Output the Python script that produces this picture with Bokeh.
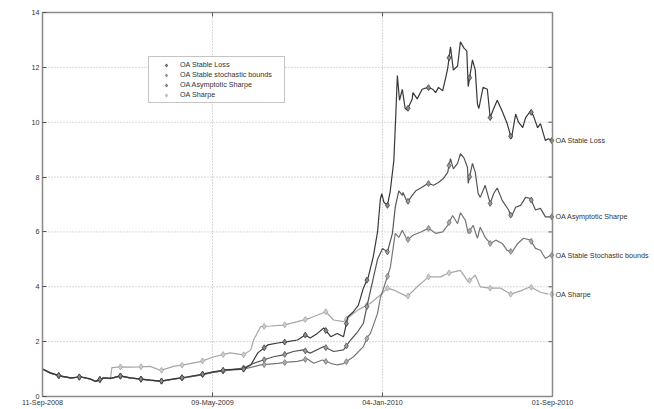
import numpy as np
import pandas as pd
from bokeh.plotting import figure
from bokeh.models import FixedTicker, Legend, LegendItem, Label, Range1d, LinearAxis, Span
from bokeh.embed import file_html
from bokeh.resources import INLINE

# ---------------- data ----------------
start_date = "2008-09-11"
tick_dates = ["2008-09-11", "2009-05-09", "2010-01-04", "2010-09-01"]
tick_labels = ["11-Sep-2008", "09-May-2009", "04-Jan-2010", "01-Sep-2010"]
y_ticks = [0, 2, 4, 6, 8, 10, 12, 14]

# days since 11-Sep-2008
sl_days = [0,11,25,40,54,68,75,86,96,110,124,138,152,167,185,205,223,241,261,284,
           294,304,318,332,346,360,371,378,388,397,407,416,425,431,439,446,453,460,467,473,
           477,479,482,487,491,496,498,501,504,508,512,515,522,523,529,536,544,551,555,559,
           565,569,572,576,580,586,590,595,599,601,607,611,614,616,622,628,632,637,642,649,
           656,662,668,672,678,682,689,693,699,703,710,714,719]
sl_vals = [1.0,0.86,0.75,0.68,0.72,0.64,0.55,0.68,0.66,0.75,0.68,0.64,0.6,0.56,0.64,0.72,0.8,0.9,0.98,1.0,
           1.15,1.59,1.88,1.95,2.0,2.06,2.24,2.13,2.3,2.5,2.18,2.3,2.18,2.9,3.09,3.33,3.95,4.36,5.1,6.0,
           7.2,7.4,7.08,6.97,7.5,8.6,9.8,11.7,10.8,11.2,10.5,10.45,10.85,11.08,10.85,11.2,11.27,11.2,11.08,11.27,
           11.15,11.6,11.95,12.75,11.9,12.05,12.93,12.7,12.6,11.3,12.27,11.9,10.67,10.5,11.27,11.2,10.17,10.5,10.8,10.4,
           9.95,9.4,10.3,10.0,9.8,10.17,10.4,10.24,9.8,9.95,9.33,9.4,9.33]

as_days = [0,11,25,40,54,68,75,86,96,110,124,138,152,167,185,205,223,241,261,284,
           298,312,326,340,354,368,378,397,411,425,435,445,453,459,466,473,480,487,494,498,
           503,508,509,515,522,527,534,544,552,559,566,572,576,580,586,590,595,600,601,607,
           611,615,618,625,632,637,642,649,658,662,668,675,682,689,696,703,710,717]
as_vals = [1.0,0.86,0.74,0.68,0.71,0.63,0.55,0.67,0.66,0.74,0.68,0.63,0.6,0.56,0.63,0.71,0.79,0.89,0.96,1.04,
           1.21,1.33,1.45,1.52,1.64,1.7,1.58,1.82,1.64,1.7,2.06,2.36,2.67,3.4,4.2,5.0,5.4,5.27,5.95,6.9,
           7.5,7.33,7.44,7.08,7.33,7.5,7.6,7.77,7.7,7.8,7.95,8.17,8.67,8.3,8.5,8.85,8.7,8.35,7.77,8.5,
           8.17,7.4,7.26,7.7,7.04,7.4,7.6,7.15,6.8,6.55,6.9,6.97,7.26,7.22,6.8,6.86,6.55,6.55]

ss_days = [0,11,25,40,54,68,75,86,96,110,124,138,152,167,185,205,223,241,261,284,
           308,332,346,360,374,383,395,407,416,425,439,453,459,463,473,477,481,491,498,503,
           508,515,523,534,545,555,565,572,579,586,590,597,601,608,614,618,625,632,640,649,
           656,663,671,679,689,696,703,710,717]
ss_vals = [1.0,0.85,0.74,0.67,0.71,0.63,0.55,0.67,0.65,0.74,0.67,0.63,0.59,0.55,0.63,0.7,0.78,0.88,0.95,1.0,
           1.15,1.21,1.25,1.28,1.37,1.21,1.33,1.21,1.15,1.2,1.45,1.82,2.17,2.3,3.03,3.6,3.9,4.7,5.95,5.8,
           6.06,5.7,5.88,6.0,6.13,5.95,6.0,6.24,6.6,6.3,6.7,6.42,5.95,6.24,5.77,6.17,5.8,5.58,5.7,5.58,
           5.33,5.27,5.58,5.77,5.7,5.4,5.33,5.03,5.15]

sh_days = [0,11,25,40,54,68,75,86,96,98,110,124,138,152,167,185,199,223,241,265,
           284,294,298,308,322,340,360,378,400,411,425,445,463,477,487,496,515,529,545,562,
           573,590,601,611,618,632,647,661,675,689,703,714]
sh_vals = [1.0,0.86,0.74,0.68,0.71,0.63,0.55,0.67,0.66,1.05,1.08,1.07,1.08,1.1,0.95,1.1,1.15,1.27,1.44,1.59,
           1.52,1.7,2.06,2.55,2.57,2.6,2.73,2.86,3.09,2.79,2.73,3.15,3.4,3.7,3.95,3.88,3.64,4.0,4.36,4.36,
           4.5,4.6,4.18,4.42,4.0,3.95,3.95,3.73,3.85,4.0,3.8,3.73]

marker_days = np.arange(23, 720, 29)

series = [
    # legend name, end label, days, values, line color, marker fill
    ("OA Stable Loss", "OA Stable Loss", sl_days, sl_vals, "#383838", "#8c8c8c"),
    ("OA Stable stochastic bounds", "OA Stable Stochastic bounds", ss_days, ss_vals, "#777777", "#ababab"),
    ("OA Asymptotic Sharpe", "OA Asymptotic Sharpe", as_days, as_vals, "#555555", "#9a9a9a"),
    ("OA Sharpe", "OA Sharpe", sh_days, sh_vals, "#a6a6a6", "#cdcdcd"),
]

start = pd.Timestamp(start_date)
tick_days = [(pd.Timestamp(d) - start).days for d in tick_dates]
x_end = tick_days[-1]

# ---------------- layout ----------------
W, H = 654, 409
LEFT, RIGHT, TOP, BOTTOM = 42, 4, 12, 12
BOX_W = 510                        # pixel width of the boxed axes area
frame_w = W - LEFT - RIGHT
frame_h = H - TOP - BOTTOM
x_max = x_end * frame_w / BOX_W    # extra room on the right for end labels
px = x_end / BOX_W                 # data units per pixel
FONT = "Liberation Sans"
BORDER = "#8a8a8a"

p = figure(width=W, height=H, output_backend="svg", toolbar_location=None,
           x_range=Range1d(0, x_max), y_range=Range1d(0, 14),
           min_border_left=LEFT, min_border_right=RIGHT, min_border_top=TOP, min_border_bottom=BOTTOM)
p.background_fill_color = "white"
p.border_fill_color = "white"
p.outline_line_color = None

bottom_axis = p.below[0]
left_axis = p.left[0]
bottom_axis.ticker = FixedTicker(ticks=tick_days)
bottom_axis.major_label_overrides = {d: l for d, l in zip(tick_days, tick_labels)}
bottom_axis.bounds = (0, x_end)
left_axis.ticker = FixedTicker(ticks=y_ticks)

top_axis = LinearAxis(ticker=FixedTicker(ticks=tick_days), bounds=(0, x_end))
top_axis.major_label_overrides = {d: "" for d in tick_days}
top_axis.major_label_text_alpha = 0
top_axis.major_label_text_font_size = "1px"
top_axis.major_label_standoff = 0
p.add_layout(top_axis, "above")

for ax in (bottom_axis, left_axis, top_axis):
    ax.axis_line_color = BORDER
    ax.axis_line_width = 1.5
    ax.major_tick_in = 4
    ax.major_tick_out = 0
    ax.major_tick_line_color = "#555555"
    ax.minor_tick_line_color = None
    ax.major_label_text_font = FONT
    ax.major_label_text_color = "#333333"
for ax in (bottom_axis, left_axis):
    ax.major_label_text_font_size = "7.2px"
bottom_axis.major_label_standoff = 1
left_axis.major_label_standoff = 3

# grid: vertical dotted lines from ticks, horizontal dotted lines only inside the box
p.xgrid.ticker = FixedTicker(ticks=tick_days[1:-1])
p.xgrid.grid_line_color = "#b0b0b0"
p.xgrid.grid_line_dash = "1 2"
p.ygrid.grid_line_color = None
inner_y = [t for t in y_ticks if 0 < t < 14]
p.segment(x0=[0] * len(inner_y), x1=[x_end] * len(inner_y), y0=inner_y, y1=inner_y,
          line_color="#b0b0b0", line_dash="1 2", line_width=1)

# right border of the box + inward ticks
p.add_layout(Span(location=x_end, dimension="height", line_color=BORDER, line_width=1.5))
p.segment(x0=[x_end - 4 * px] * len(y_ticks), x1=[x_end] * len(y_ticks), y0=y_ticks, y1=y_ticks,
          line_color="#555555", line_width=1)

items = []
for name, end_label, d, v, lc, mc in reversed(series):
    p.line(d, v, line_color=lc, line_width=1.2)
    my = np.interp(marker_days, d, v)
    r = p.scatter(marker_days, my, marker="diamond", size=6, fill_color=mc, line_color=lc, line_width=0.8)
    items.append((name, r))
    p.add_layout(Label(x=x_end, y=v[-1], x_offset=3, text=end_label, text_baseline="middle",
                       text_font=FONT, text_font_size="7.2px", text_color="#333333"))

items = list(reversed(items))
legend = Legend(items=[LegendItem(label=n, renderers=[r]) for n, r in items],
                location=(106, frame_h - 92), orientation="vertical",
                label_text_font=FONT, label_text_font_size="7.2px", label_text_color="#333333",
                glyph_width=28, glyph_height=8, label_height=8, label_width=101, label_standoff=0,
                spacing=1, padding=3, margin=0,
                border_line_color=BORDER, border_line_width=1.5,
                background_fill_color="white", background_fill_alpha=1.0)
p.add_layout(legend, "center")

open("out.html", "w").write(file_html(p, INLINE))
